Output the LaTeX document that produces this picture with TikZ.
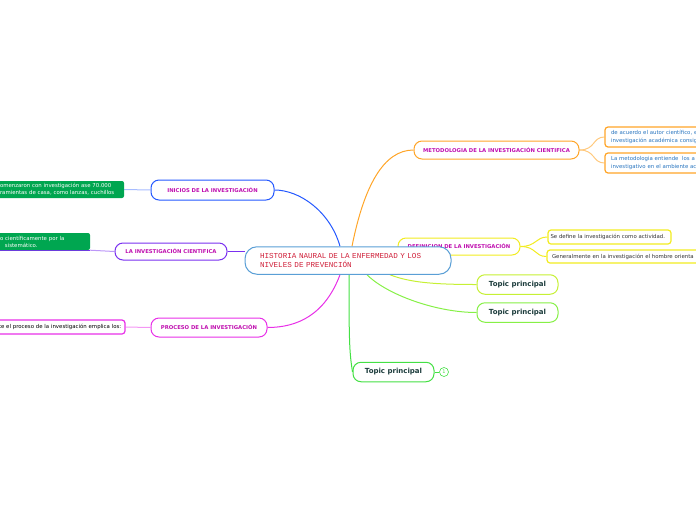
\documentclass[tikz,border=0pt]{standalone}
\usepackage{fontspec}
\setmainfont{DejaVu Sans}
\newfontfamily\monofont{Liberation Mono}
\usetikzlibrary{calc,backgrounds}

\definecolor{centralblue}{HTML}{5A9FD6}
\definecolor{crimson}{HTML}{D0203A}
\definecolor{headtext}{HTML}{C010B0}
\definecolor{iniblue}{HTML}{2458FF}
\definecolor{cientpurple}{HTML}{7A30F0}
\definecolor{procmag}{HTML}{E830E8}
\definecolor{metorange}{HTML}{FFA528}
\definecolor{defyellow}{HTML}{F2EC20}
\definecolor{topicA}{HTML}{C6F034}
\definecolor{topicB}{HTML}{86F046}
\definecolor{topicC}{HTML}{44E044}
\definecolor{topictext}{HTML}{1C3C3C}
\definecolor{boxgreen}{HTML}{00A650}
\definecolor{metblue}{HTML}{2A76C0}

\tikzset{
  mainbox/.style={draw=centralblue, line width=1pt, rounded corners=12pt, fill=white,
    minimum width=206pt, minimum height=27.5pt, inner sep=0pt, text width=176pt,
    align=left, text=crimson, font=\monofont\fontsize{7.6}{8.2}\selectfont},
  headbox/.style={draw=#1, line width=1pt, rounded corners=8pt, fill=white, inner sep=0pt,
    text=headtext, font=\fontsize{5.3}{6}\selectfont\bfseries},
  topicbox/.style={draw=#1, line width=1pt, rounded corners=8pt, fill=white, inner sep=0pt,
    minimum width=81pt, minimum height=19.5pt, text=topictext,
    font=\fontsize{7}{8}\selectfont\bfseries},
  notebox/.style={draw=#1, line width=1.2pt, rounded corners=3pt, fill=white, inner sep=0pt,
    align=left, font=\fontsize{5.4}{7.8}\selectfont},
  greenbox/.style={fill=boxgreen, rounded corners=2pt, inner sep=0pt, align=left,
    text=white, font=\fontsize{5.4}{7.2}\selectfont},
  link/.style={line width=1pt}
}

\begin{document}
\begin{tikzpicture}[x=1pt, y=-1pt]
  \useasboundingbox (0,0) rectangle (696,520);
  \clip (0,0) rectangle (696,520);

  % branch hidden behind the central topic
  \node[headbox=defyellow, minimum width=122pt, minimum height=17pt] (definicion)
    at (459,246.5) {DEFINICION DE LA INVESTIGACIÓN};

  % central topic
  \node[mainbox] (central) at (348,260.5)
    {HISTORIA NAURAL DE LA ENFERMEDAD Y LOS\\NIVELES DE PREVENCIÓN};

  % main branches
  \node[headbox=iniblue, minimum width=123pt, minimum height=20pt] (inicios)
    at (212.5,190) {INICIOS DE LA INVESTIGACIÓN};
  \node[headbox=cientpurple, minimum width=112pt, minimum height=17pt] (cientifica)
    at (171,251.5) {LA INVESTIGACIÓN CIENTIFICA};
  \node[headbox=procmag, minimum width=116pt, minimum height=19pt] (proceso)
    at (209,327.5) {PROCESO DE LA INVESTIGACIÓN};
  \node[headbox=metorange, minimum width=165pt, minimum height=18pt] (metodologia)
    at (496.5,150) {METODOLOGIA DE LA INVESTIGACIÓN CIENTIFICA};
  \node[topicbox=topicA] (topicA) at (517.5,284.5) {Topic principal};
  \node[topicbox=topicB] (topicB) at (517.5,312.5) {Topic principal};
  \node[topicbox=topicC] (topicC) at (393.5,372) {Topic principal};
  \node[draw=topicC, line width=0.6pt, circle, minimum size=9pt, inner sep=0pt,
    text=topicC, font=\fontsize{5}{6}\selectfont] (badge) at (444,372) {1};

  % left notes
  \node[greenbox, minimum width=129pt, minimum height=17pt, text width=119pt] (gboxA)
    at (59.5,189.5) {omenzaron con investigación ase 70.000\\ramientas de casa, como lanzas, cuchillos};
  \node[greenbox, minimum width=95pt, minimum height=17pt, text width=85pt] (gboxB)
    at (42.5,241.5) {o científicamente por la\\\hspace*{5pt}sistemático.};
  \node[notebox=procmag, minimum width=128pt, minimum height=14pt, text width=124pt] (pbox)
    at (61,327) {te el proceso de la investigación emplica los:};

  % right notes
  \node[notebox=metorange, minimum width=115pt, minimum height=20pt, text width=103pt,
    text=metblue] (metA) at (662.5,137)
    {de acuerdo el autor científico, e\\investigación académica consig};
  \node[notebox=metorange, minimum width=115pt, minimum height=20pt, text width=103pt,
    text=metblue] (metB) at (662.5,163)
    {La metodologia entiende\ \ los a\\investigativo en el ambiente ac};
  \node[notebox=defyellow, minimum width=123pt, minimum height=14pt, text width=118pt,
    text=black!80] (defA) at (609.5,237) {Se define la investigación como actividad.};
  \node[notebox=defyellow, minimum width=173pt, minimum height=13pt, text width=163pt,
    text=black!80] (defB) at (633.5,256.5) {Generalmente en la investigación el hombre orienta};

  \begin{scope}[on background layer]
    % central topic to branches
    \draw[link, iniblue] ($(central.north)+(-8,0)$)
      .. controls +(-10,-35) and +(25,0) .. (inicios.east);
    \draw[link, metorange] ($(central.north)+(4,0)$)
      .. controls +(12,-60) and +(-30,0) .. (metodologia.west);
    \draw[link, cientpurple] (cientifica.east) -- (central.west |- cientifica.east);
    \draw[link, procmag] ($(central.south)+(-8,0)$)
      .. controls +(-15,40) and +(30,0) .. (proceso.east);
    \draw[link, topicC] ($(central.south)+(1,0)$)
      .. controls +(0,70) and +(-3,-20) .. (topicC.west);
    \draw[link, topicB] ($(central.south)+(19,0)$)
      .. controls +(20,20) and +(-40,0) .. (topicB.west);
    \draw[link, topicA] ($(central.south)+(42,0)$)
      .. controls +(20,8) and +(-40,0) .. (topicA.west);
    \draw[line width=0.6pt, topicC] (topicC.east) -- (badge);

    % branches to notes
    \draw[link, iniblue!40] (gboxA.east) -- (inicios.west);
    \draw[link, cientpurple] (gboxB.south west) -- (gboxB.south east);
    \draw[link, cientpurple!50] (gboxB.south east) -- (cientifica.west);
    \draw[link, procmag!50] (pbox.east) -- (proceso.west);
    \foreach \n in {metA,metB}
      \draw[link, metorange!60] (metodologia.east)
        .. controls +(16,0) and +(-12,0) .. (\n.west);
    \foreach \n in {defA,defB}
      \draw[link, defyellow] (definicion.east)
        .. controls +(16,0) and +(-12,0) .. (\n.west);
  \end{scope}
\end{tikzpicture}
\end{document}
